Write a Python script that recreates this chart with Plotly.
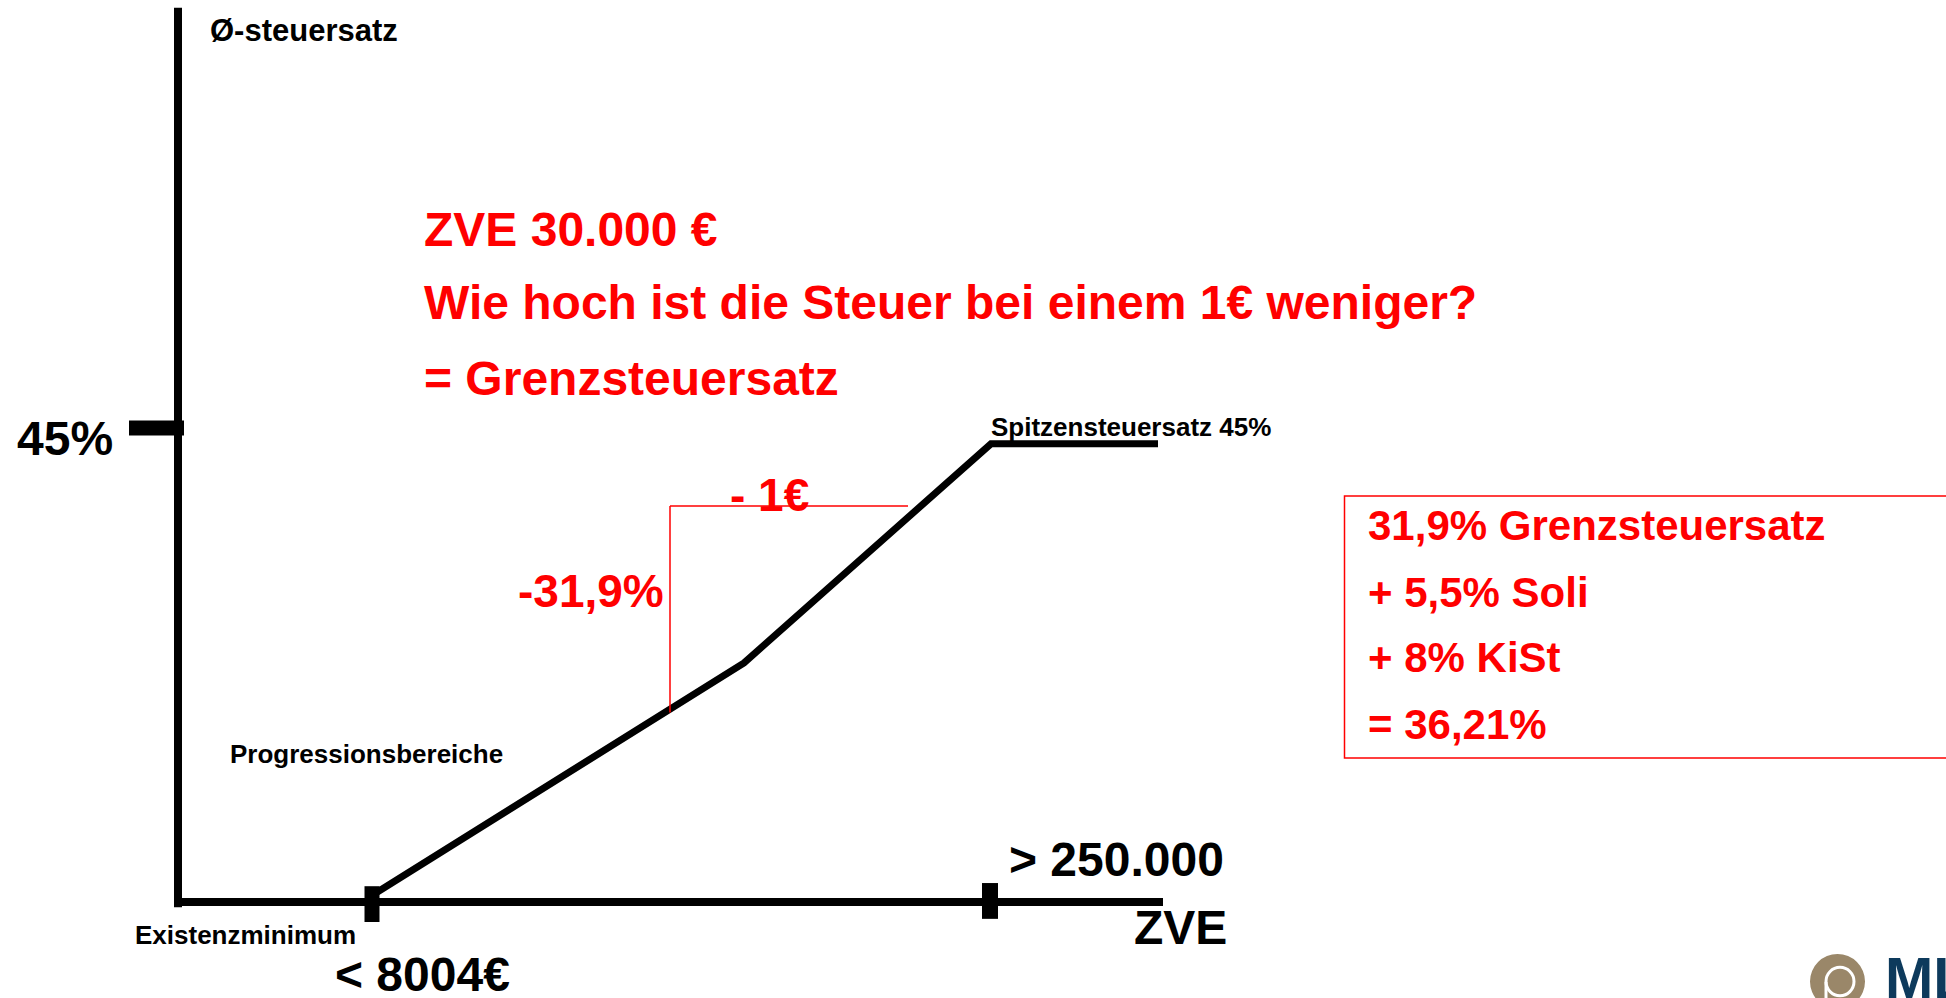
import plotly.graph_objects as go

# ---- schematic data (x: schematic ZVE position, y: tax rate in %) ----
curve_zve = [19.7, 56.6, 81.3, 98.0]
curve_rate = [0.8, 22.7, 43.5, 43.5]

axis_x_end = 98.5
axis_y_top = 84.9

tick_rate = 45
tick_zve_low = 19.4      # "< 8004€"
tick_zve_high = 81.2     # "> 250.000"

marg_zve = [49.2, 73.0]          # -1€ step
marg_rate = [18.0, 37.6]         # -31,9% step

box_lines = ["31,9% Grenzsteuersatz", "+ 5,5% Soli", "+ 8% KiSt", "= 36,21%"]
question_lines = ["ZVE 30.000 €", "Wie hoch ist die Steuer bei einem 1€ weniger?", "= Grenzsteuersatz"]

RED = "#ff0000"
FONT = "Liberation Sans"

fig = go.Figure()

def line(xs, ys, color="black", width=7):
    fig.add_trace(go.Scatter(x=xs, y=ys, mode="lines", line=dict(color=color, width=width),
                             hoverinfo="skip", showlegend=False))

# axes
line([0, 0], [-0.5, axis_y_top], width=8)
line([-0.4, axis_x_end], [0, 0], width=8)
# thick ticks
line([-4.9, 0.6], [tick_rate, tick_rate], width=15)
line([tick_zve_low, tick_zve_low], [-1.9, 1.5], width=15)
line([tick_zve_high, tick_zve_high], [-1.6, 1.8], width=16)
# tax curve
line(curve_zve, curve_rate, width=7)
# marginal step (red)
line([marg_zve[0], marg_zve[0]], [marg_rate[0], marg_rate[1]], color=RED, width=1.5)
line([marg_zve[0], marg_zve[1]], [marg_rate[1], marg_rate[1]], color=RED, width=1.5)

def text(x, y, s, size, color="black", xanchor="left"):
    fig.add_annotation(x=x, y=y, xref="x", yref="y", text="<b>" + s + "</b>", showarrow=False,
                       xanchor=xanchor, yanchor="middle",
                       font=dict(family=FONT, size=size, color=color))

text(3.0, 82.69, "Ø-steuersatz", 31)
text(-16.3, 43.96, "45%", 48)
for s, y in zip(question_lines, [63.85, 56.87, 49.70]):
    text(24.4, y, s, 48, RED)
text(81.1, 45.05, "Spitzensteuersatz 45%", 26)
text(55.0, 38.64, "- 1€", 46, RED)
text(33.8, 29.48, "-31,9%", 46, RED)
text(5.0, 14.05, "Progressionsbereiche", 26)
text(-4.5, -3.09, "Existenzminimum", 26)
text(15.5, -6.85, "< 8004€", 48)
text(82.9, 4.03, "> 250.000", 48)
text(95.4, -2.42, "ZVE", 48)
for s, y in zip(box_lines, [35.79, 29.38, 23.17, 16.85]):
    text(118.8, y, s, 42, RED)

# red box
fig.add_shape(type="rect", x0=116.65, x1=178, y0=13.67, y1=38.55, xref="x", yref="y",
              line=dict(color=RED, width=1.5), fillcolor="rgba(0,0,0,0)")

# logo (partially visible)
fig.add_shape(type="circle", x0=163.2, x1=168.7, y0=-10.16, y1=-4.94, xref="x", yref="y",
              fillcolor="#9a8769", line=dict(width=0))
fig.add_shape(type="circle", x0=164.8, x1=167.6, y0=-8.9, y1=-6.2, xref="x", yref="y",
              fillcolor="rgba(0,0,0,0)", line=dict(color="white", width=3))
fig.add_shape(type="line", x0=164.8, x1=164.8, y0=-7.6, y1=-10.5, xref="x", yref="y",
              line=dict(color="white", width=3))
fig.add_annotation(x=170.5, y=-7.19, xref="x", yref="y", text="<b>MLP</b>", showarrow=False,
                   xanchor="left", yanchor="middle",
                   font=dict(family=FONT, size=58, color="#0d3a5c"))

fig.update_layout(
    width=1946, height=998,
    margin=dict(l=0, r=0, t=0, b=0),
    paper_bgcolor="white", plot_bgcolor="white",
    xaxis=dict(range=[-17.8, 176.8], visible=False, fixedrange=True),
    yaxis=dict(range=[-9.114, 85.63], visible=False, fixedrange=True),
    showlegend=False,
)

fig.write_html("out.html")
